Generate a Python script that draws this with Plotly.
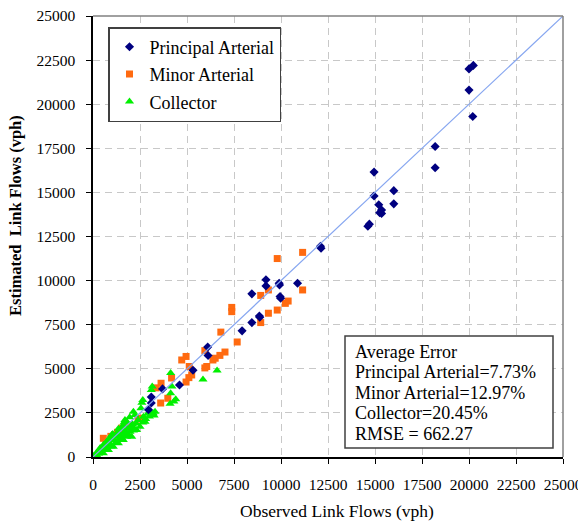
import plotly.graph_objects as go

# ---- data ----
pa_x = [20000, 20230, 20000, 20200, 18200, 18200, 14950, 14950, 16000, 16000, 15200, 15350, 15250, 15350,
        14700, 14620, 12100, 12130, 9200, 9200, 9900, 9920, 10880, 8450, 9950, 9980, 8850, 8870, 8450,
        7930, 6100, 6120, 5320, 4600, 3700, 3100, 3100, 2950]
pa_y = [22000, 22200, 20800, 19300, 17600, 16400, 16150, 14800, 15100, 14350, 14300, 14000, 13850, 13800,
        13200, 13080, 11950, 11830, 10050, 9700, 9850, 9750, 9850, 9250, 9100, 9000, 7990, 7920, 7620,
        7150, 6230, 5750, 4920, 4080, 3860, 3400, 3060, 2680]

ma_x = [11150, 9800, 11150, 9330, 8920, 10380, 10230, 9800, 9330, 7380, 7380, 8920, 6800, 7670, 5950,
        7020, 6750, 6500, 6380, 4950, 4720, 6050, 5950, 5120, 5250, 5100, 4950, 4180, 3620, 3350, 3980,
        3600, 2580, 2400, 2050, 1530, 1600, 950, 550, 1300, 700, 1150, 1750]
ma_y = [11600, 11250, 9470, 9470, 9160, 8840, 8710, 8330, 8150, 8480, 8240, 7620, 7080, 6520, 6030,
        5950, 5760, 5600, 5500, 5700, 5500, 5130, 5050, 5130, 4650, 4500, 4250, 4480, 4180, 3920, 3330,
        3060, 2200, 2150, 1800, 1640, 1530, 1170, 1060, 1400, 820, 1250, 1750]

co_x = [6600, 5850, 4130, 4200, 4130, 4400, 4100, 4300, 3150, 3100, 2650, 2600, 3300, 3200, 3100, 3000,
        2550, 2150, 2230, 2680, 2770, 2650, 1700, 1800, 1620, 1530, 1350, 1440, 1970, 1790, 2500, 2320,
        2060, 2200, 1900, 1170, 1080, 1250, 1100, 1000, 900, 730, 460, 280, 100, 1610, 1350, 1080, 820,
        550, 1790, 550, 370, 820, 990, 900, 700, 600, 400, 250, 150, 60, 300, 200, 1200, 1400, 1500, 1600,
        1700, 1850, 2000, 2100, 1300,
        650, 950, 1250, 1550, 1850, 2150, 450, 750, 1050, 1350, 1650, 1950, 800, 1100, 1400, 1700, 2300,
        2400, 2900, 2800, 3250, 3050]
co_y = [4900, 4400, 4760, 4000, 3620, 3280, 3020, 3150, 4000, 3800, 3230, 3080, 2560, 2480, 2420, 2300,
        2760, 2570, 2380, 2280, 2000, 1950, 2100, 2000, 1810, 1630, 1430, 1250, 1430, 1340, 1720, 1530,
        1150, 1600, 1200, 1150, 960, 1300, 1200, 1100, 780, 580, 400, 210, 20, 960, 780, 580, 400,
        210, 1150, 680, 490, 960, 1250, 1050, 800, 700, 500, 300, 180, 80, 200, 100, 800, 1000, 1100, 1300,
        1450, 1600, 1700, 1850, 1200,
        400, 600, 850, 1050, 1300, 1500, 520, 900, 1300, 1600, 1950, 2250, 650, 950, 1250, 1450, 1900,
        2100, 2450, 2150, 2350, 2600]

line_x = [0, 25000]
line_y = [0, 25000]

tick_vals = [0, 2500, 5000, 7500, 10000, 12500, 15000, 17500, 20000, 22500, 25000]
tick_text = [str(v) for v in tick_vals]

stats_lines = ["Average Error", "Principal Arterial=7.73%", "Minor Arterial=12.97%",
               "Collector=20.45%", "RMSE = 662.27"]

FONT = "Liberation Serif"

# ---- layout geometry (pixels) ----
W, H = 578, 521
ML, MR, MT, MB = 93, 15, 16, 64
PW, PH = W - ML - MR, H - MT - MB


def px_x(X):
    return (X - ML) / PW


def px_y(Y):
    return (H - MB - Y) / PH


fig = go.Figure()
fig.add_trace(go.Scatter(x=ma_x, y=ma_y, mode="markers", name="Minor Arterial", legendrank=2,
                         legendgroup="b",
                         marker=dict(symbol="square", size=7, color="#FF6A10")))
fig.add_trace(go.Scatter(x=co_x, y=co_y, mode="markers", name="Collector", legendrank=3,
                         legendgroup="c",
                         marker=dict(symbol="triangle-up", size=8, color="#00F000")))
fig.add_trace(go.Scatter(x=pa_x, y=pa_y, mode="markers", name="Principal Arterial", legendrank=1,
                         legendgroup="a",
                         marker=dict(symbol="diamond", size=7, color="#000080")))
fig.add_trace(go.Scatter(x=line_x, y=line_y, mode="lines", showlegend=False,
                         line=dict(color="#86A6F0", width=1.2)))

axis_common = dict(
    range=[0, 25000], tickvals=tick_vals, ticktext=tick_text, automargin=False,
    showgrid=True, gridcolor="#C8C8C8", gridwidth=1, griddash="7px,5px",
    zeroline=False, showline=True, linecolor="#000000", linewidth=1.5,
    ticks="outside", ticklen=5, tickcolor="#000000", tickwidth=1,
    tickfont=dict(family=FONT, size=15.5, color="#000000"),
    ticklabelstandoff=8, ticklabeloverflow="allow",
)
fig.update_xaxes(**axis_common)
fig.update_yaxes(**axis_common)

line_centers = [351.5, 372, 392.5, 413, 433.5]
annotations = [
    dict(text=t, xref="paper", yref="paper", x=px_x(353), y=px_y(yc),
         xanchor="left", yanchor="middle", align="left", showarrow=False,
         font=dict(family=FONT, size=18, color="#000000"))
    for t, yc in zip(stats_lines, line_centers)
]
annotations += [
    dict(text="<b>Estimated&nbsp; Link Flows (vph)</b>", xref="paper", yref="paper",
         x=px_x(15), y=px_y(216), xanchor="center", yanchor="middle", textangle=-90,
         showarrow=False, font=dict(family=FONT, size=16.5, color="#000000")),
    dict(text="Observed Link Flows (vph)", xref="paper", yref="paper",
         x=px_x(337), y=px_y(511), xanchor="center", yanchor="middle",
         showarrow=False, font=dict(family=FONT, size=17.5, color="#000000")),
]

fig.update_layout(
    width=W, height=H,
    margin=dict(l=ML, r=MR, t=MT, b=MB),
    paper_bgcolor="white", plot_bgcolor="white",
    font=dict(family=FONT, color="#000000"),
    legend=dict(x=px_x(108), y=px_y(27), xanchor="left", yanchor="top",
                bgcolor="white", bordercolor="#404040", borderwidth=1.5,
                font=dict(family=FONT, size=18, color="#000000"),
                tracegroupgap=1, itemwidth=30),
    shapes=[
        dict(type="line", xref="paper", yref="paper", x0=0, x1=1, y0=1, y1=1,
             line=dict(color="#808080", width=1.5)),
        dict(type="line", xref="paper", yref="paper", x0=1, x1=1, y0=0, y1=1,
             line=dict(color="#808080", width=1.5)),
        dict(type="rect", xref="paper", yref="paper",
             x0=px_x(345), x1=px_x(553), y0=px_y(448), y1=px_y(336),
             fillcolor="white", line=dict(color="#404040", width=1.5)),
    ],
    annotations=annotations,
)

fig.write_html("out.html")
